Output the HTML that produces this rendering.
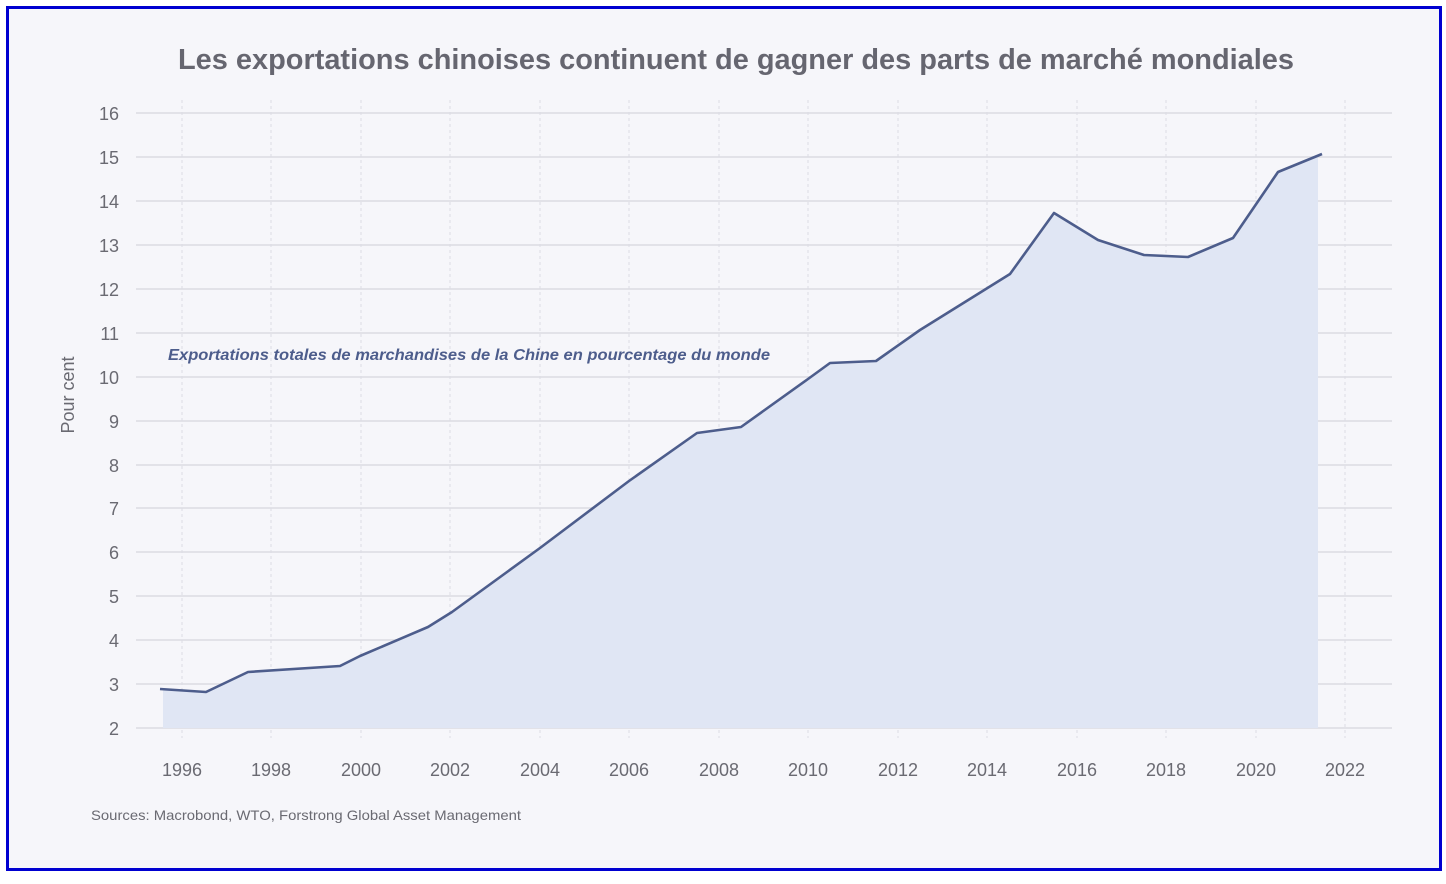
<!DOCTYPE html>
<html><head><meta charset="utf-8"><style>
html,body{margin:0;padding:0;background:#fff;}
body{width:1446px;height:879px;overflow:hidden;}
</style></head><body>
<svg width="1446" height="879" xmlns="http://www.w3.org/2000/svg" font-family="'Liberation Sans', sans-serif">
<rect x="0" y="0" width="1446" height="879" fill="#fff"/>
<rect x="7.5" y="7.5" width="1433" height="862" fill="#f6f6fa" stroke="#0000d0" stroke-width="3"/>
<text x="736" y="69" text-anchor="middle" font-size="29" fill="#666670" font-weight="bold" textLength="1116" lengthAdjust="spacingAndGlyphs">Les exportations chinoises continuent de gagner des parts de marché mondiales</text>
<g stroke="#e2e2e8" stroke-width="2">
<line x1="136" x2="1392" y1="113" y2="113"/><line x1="136" x2="1392" y1="157" y2="157"/><line x1="136" x2="1392" y1="201" y2="201"/><line x1="136" x2="1392" y1="245" y2="245"/><line x1="136" x2="1392" y1="289" y2="289"/><line x1="136" x2="1392" y1="333" y2="333"/><line x1="136" x2="1392" y1="377" y2="377"/><line x1="136" x2="1392" y1="421" y2="421"/><line x1="136" x2="1392" y1="465" y2="465"/><line x1="136" x2="1392" y1="508" y2="508"/><line x1="136" x2="1392" y1="552" y2="552"/><line x1="136" x2="1392" y1="596" y2="596"/><line x1="136" x2="1392" y1="640" y2="640"/><line x1="136" x2="1392" y1="684" y2="684"/><line x1="136" x2="1392" y1="728" y2="728"/>
</g>
<g stroke="#dcdce4" stroke-width="1" stroke-dasharray="3,3">
<line x1="182" x2="182" y1="100" y2="738"/><line x1="271" x2="271" y1="100" y2="738"/><line x1="361" x2="361" y1="100" y2="738"/><line x1="450" x2="450" y1="100" y2="738"/><line x1="540" x2="540" y1="100" y2="738"/><line x1="629" x2="629" y1="100" y2="738"/><line x1="719" x2="719" y1="100" y2="738"/><line x1="808" x2="808" y1="100" y2="738"/><line x1="898" x2="898" y1="100" y2="738"/><line x1="987" x2="987" y1="100" y2="738"/><line x1="1077" x2="1077" y1="100" y2="738"/><line x1="1166" x2="1166" y1="100" y2="738"/><line x1="1256" x2="1256" y1="100" y2="738"/><line x1="1345" x2="1345" y1="100" y2="738"/>
</g>
<polygon fill="#e0e6f4" points="163,689 206,692 248,672 340,666 360,656 428,627 452,612 540,548 629,481 697,433 741,427 808,379 830,363 876,361 920,330 1010,274 1054,213 1098,240 1144,255 1188,257 1233,238 1278,172 1318,155 1318,728 163,728"/>
<polyline fill="none" stroke="#4d5d8c" stroke-width="2.6" stroke-linejoin="round" points="160,689 206,692 248,672 340,666 360,656 428,627 452,612 540,548 629,481 697,433 741,427 808,379 830,363 876,361 920,330 1010,274 1054,213 1098,240 1144,255 1188,257 1233,238 1278,172 1322,154"/>
<g font-size="18" fill="#6a6a72" text-anchor="end">
<text x="119" y="120">16</text><text x="119" y="164">15</text><text x="119" y="208">14</text><text x="119" y="252">13</text><text x="119" y="296">12</text><text x="119" y="340">11</text><text x="119" y="384">10</text><text x="119" y="428">9</text><text x="119" y="472">8</text><text x="119" y="515">7</text><text x="119" y="559">6</text><text x="119" y="603">5</text><text x="119" y="647">4</text><text x="119" y="691">3</text><text x="119" y="735">2</text>
</g>
<g font-size="18" fill="#6a6a72" text-anchor="middle">
<text x="182" y="776">1996</text><text x="271" y="776">1998</text><text x="361" y="776">2000</text><text x="450" y="776">2002</text><text x="540" y="776">2004</text><text x="629" y="776">2006</text><text x="719" y="776">2008</text><text x="808" y="776">2010</text><text x="898" y="776">2012</text><text x="987" y="776">2014</text><text x="1077" y="776">2016</text><text x="1166" y="776">2018</text><text x="1256" y="776">2020</text><text x="1345" y="776">2022</text>
</g>
<text transform="translate(74,395) rotate(-90)" text-anchor="middle" font-size="18" fill="#6a6a72">Pour cent</text>
<text x="168" y="360" font-size="16" font-style="italic" font-weight="bold" fill="#4d5d8c" textLength="602" lengthAdjust="spacingAndGlyphs">Exportations totales de marchandises de la Chine en pourcentage du monde</text>
<text x="91" y="820" font-size="14" fill="#6a6a72" textLength="430" lengthAdjust="spacingAndGlyphs">Sources: Macrobond, WTO, Forstrong Global Asset Management</text>
</svg>
</body></html>
